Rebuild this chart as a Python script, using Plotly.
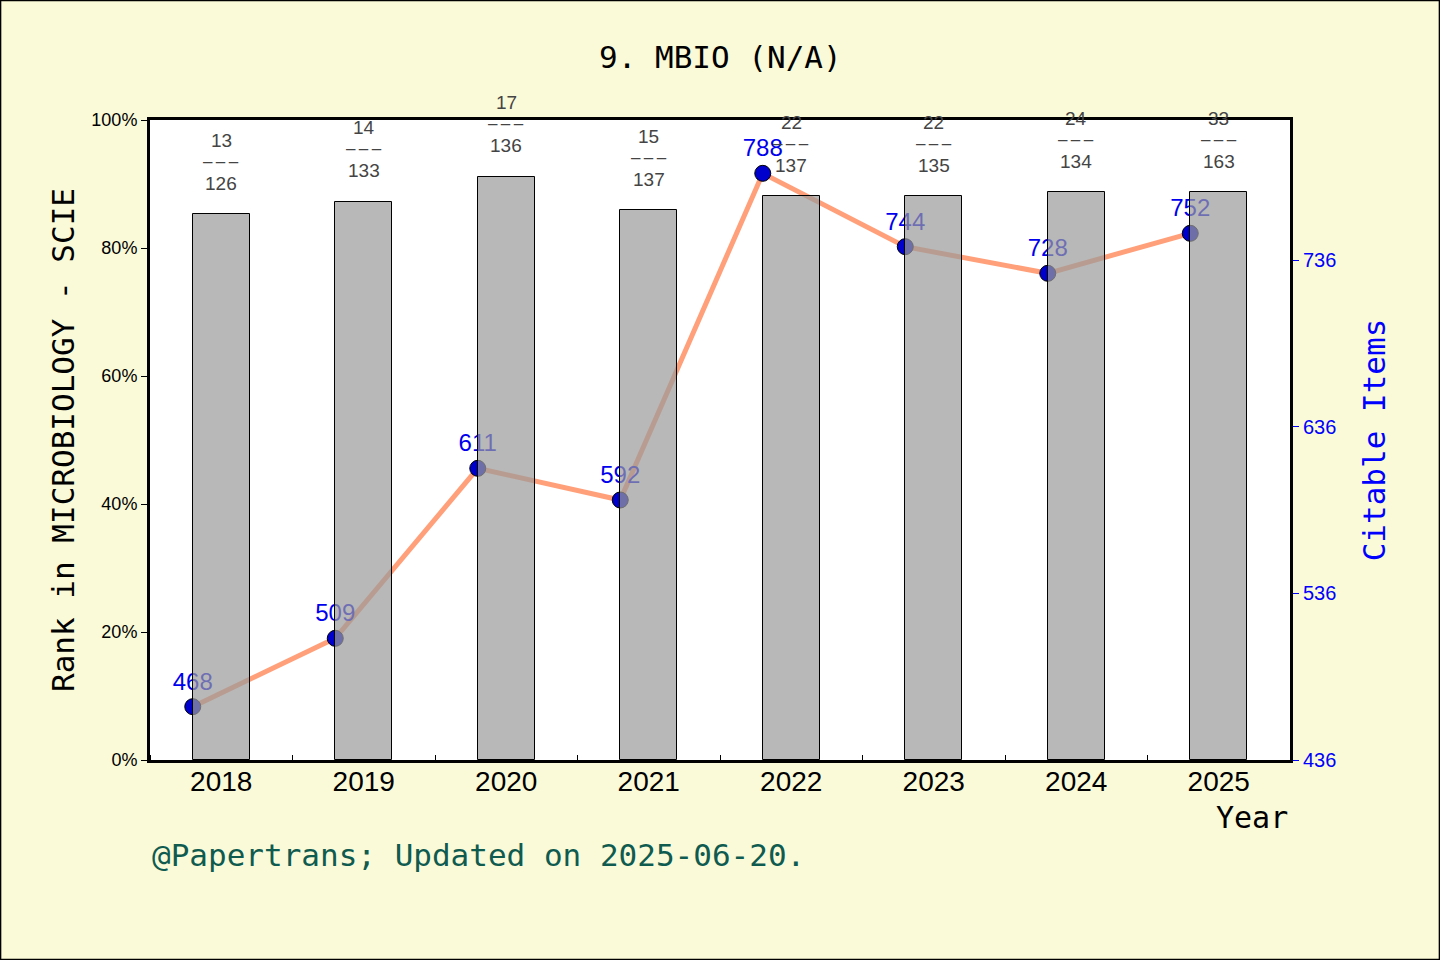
import plotly.graph_objects as go

years = ["2018", "2019", "2020", "2021", "2022", "2023", "2024", "2025"]
rank_pct = [85.3, 87.2, 91.1, 85.9, 88.1, 88.1, 88.7, 88.7]
rank_num = [13, 14, 17, 15, 22, 22, 24, 33]
rank_total = [126, 133, 136, 137, 137, 135, 134, 163]
citable = [468, 509, 611, 592, 788, 744, 728, 752]
pct_ticks = [0, 20, 40, 60, 80, 100]
cit_ticks = [436, 536, 636, 736]

W, H = 1440, 960
L, R, T, B = 150, 150, 120, 200
mono = "DejaVu Sans Mono"
sans = "Liberation Sans"

xs = list(range(len(years)))
fig = go.Figure()

# line first (bottom axis layer), bars on the overlaying axis so they sit on top
fig.add_trace(go.Scatter(
    x=[i - 0.2 for i in xs], y=citable, yaxis="y",
    mode="lines+markers+text", text=[str(v) for v in citable],
    textposition="top center", textfont=dict(size=24, color="#0000ee", family=sans),
    line=dict(color="#ffa07a", width=5),
    marker=dict(size=16, color="#0000cc", line=dict(color="black", width=1)),
    cliponaxis=False, showlegend=False))

fig.add_trace(go.Bar(
    x=xs, y=rank_pct, yaxis="y2", width=0.4,
    marker=dict(color="rgba(155,155,155,0.71)", line=dict(color="black", width=1)),
    showlegend=False))

dash = "\u2013\u2009\u2013\u2009\u2013"
for i in xs:
    for txt, shift, size in [(str(rank_num[i]), 74, 19), (dash, 53, 17),
                             (str(rank_total[i]), 31, 19)]:
        fig.add_annotation(x=i, y=rank_pct[i], xref="x", yref="y2", yshift=shift,
                           text=txt, showarrow=False,
                           font=dict(size=size, color="#444444", family=sans))

pw, ph = W - L - R, H - T - B
fig.add_annotation(xref="paper", yref="paper", x=0.5, y=1 + (T - 57) / ph,
                   text="9. MBIO (N/A)", showarrow=False, yanchor="middle",
                   font=dict(size=31, color="black", family=mono))
fig.add_annotation(xref="paper", yref="paper", x=1, y=-(817 - (H - B)) / ph,
                   text="Year", showarrow=False, xanchor="right", yanchor="middle",
                   font=dict(size=30, color="black", family=mono))
fig.add_annotation(xref="paper", yref="paper", x=0, y=-(855 - (H - B)) / ph,
                   text="@Papertrans; Updated on 2025-06-20.", showarrow=False,
                   xanchor="left", yanchor="middle",
                   font=dict(size=31, color="#0f5b50", family=mono))

# thin frame round the whole picture
fig.add_shape(type="rect", xref="paper", yref="paper",
              x0=-L / pw + 0.0005, x1=1 + R / pw - 0.0005,
              y0=-B / ph + 0.0008, y1=1 + T / ph - 0.0008,
              line=dict(color="black", width=1.5), layer="above")

fig.update_layout(
    width=W, height=H,
    margin=dict(l=L, r=R, t=T, b=B),
    paper_bgcolor="#fafad8", plot_bgcolor="white",
    bargap=0,
    xaxis=dict(range=[-0.5, 7.5], tickvals=xs, ticktext=years, ticks="",
               showgrid=False, zeroline=False,
               showline=True, linecolor="black", linewidth=3, mirror=True,
               tickfont=dict(size=28, color="black", family=sans),
               ticklabelstandoff=-6,
               minor=dict(tick0=0.5, dtick=1, ticks="inside", ticklen=5,
                          tickcolor="black", tickwidth=1, showgrid=False)),
    yaxis=dict(range=[436, 820], side="right", tickvals=cit_ticks,
               ticks="outside", ticklen=6, tickcolor="blue",
               showgrid=False, zeroline=False,
               showline=True, linecolor="black", linewidth=3,
               tickfont=dict(size=20, color="blue", family=sans),
               title=dict(text="Citable Items", standoff=28,
                          font=dict(size=31, color="blue", family=mono))),
    yaxis2=dict(range=[0, 100], side="left", overlaying="y",
                tickvals=pct_ticks, ticktext=[f"{v}%" for v in pct_ticks],
                ticks="outside", ticklen=6, tickcolor="black",
                showgrid=False, zeroline=False,
                showline=True, linecolor="black", linewidth=3,
                tickfont=dict(size=18, color="black", family=sans),
                title=dict(text="Rank in MICROBIOLOGY - SCIE", standoff=8,
                           font=dict(size=31, color="black", family=mono))),
)

fig.write_html("out.html", config={"displayModeBar": False},
               post_script="document.body.style.margin='0';")
